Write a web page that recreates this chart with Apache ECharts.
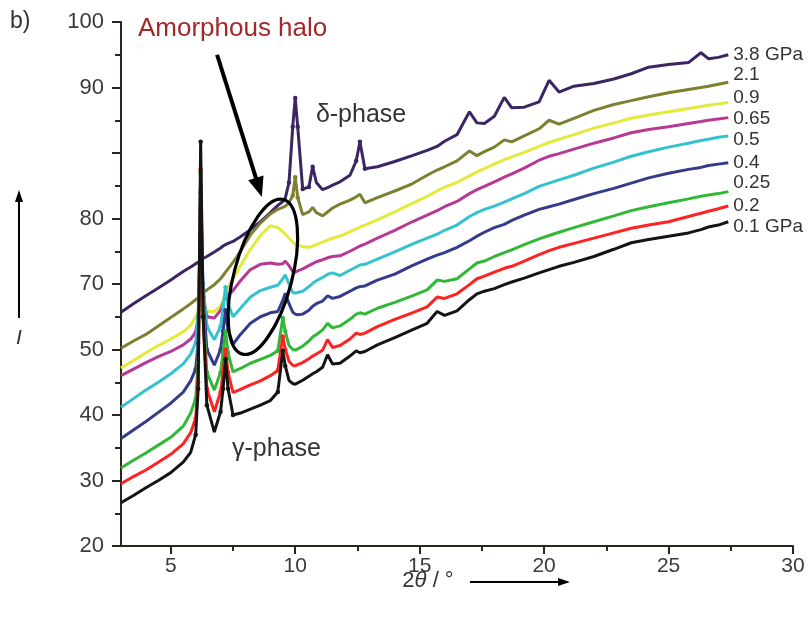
<!DOCTYPE html>
<html><head><meta charset="utf-8">
<script src="https://cdn.jsdelivr.net/npm/echarts@6/dist/echarts.min.js"></script>
<style>html,body{margin:0;padding:0;background:#fff}#c{width:808px;height:619px}</style>
</head><body><div id="c"></div>
<script>
// 2θ grid (degrees)
const twoTheta = [3,3.5,4,4.5,5,5.5,5.8,6.0,6.1,6.2,6.3,6.45,6.75,7.0,7.1,7.2,7.3,7.5,7.8,8.2,8.6,9.0,9.3,9.5,9.6,9.75,9.9,10.0,10.1,10.3,10.55,10.7,10.85,11.1,11.3,11.5,11.8,12.2,12.45,12.6,12.8,13.3,14.0,14.7,15.3,15.7,16.0,16.5,17.0,17.3,17.6,18.0,18.4,18.7,19.2,19.8,20.2,20.6,21.2,22.0,22.8,23.5,24.2,25.0,25.8,26.3,26.6,27.0,27.4];

const i38 = [55.7,57.0,58.2,59.4,60.6,61.9,62.6,63.1,63.3,63.6,63.9,64.2,64.9,65.5,65.8,66.0,66.2,66.5,67.2,68.3,69.5,70.9,72.0,72.6,73.1,75.5,84.0,88.4,84.0,74.5,74.8,77.9,75.5,74.4,74.7,75.1,75.6,76.6,78.8,81.7,77.6,77.9,78.7,79.6,80.4,81.0,81.8,82.8,86.3,84.6,84.5,85.6,88.5,86.9,87.0,87.8,91.1,89.3,90.2,90.6,91.3,92.1,93.1,93.5,93.8,95.3,94.4,94.6,95.0];
const i21 = [50.2,51.3,52.3,53.6,54.9,56.2,57.0,57.6,57.9,58.3,58.6,59.1,59.9,60.8,61.3,61.8,62.3,63.3,65.0,67.5,69.3,70.7,71.4,71.7,71.9,72.4,73.5,76.3,73.2,70.6,71.0,71.7,70.9,70.4,71.0,71.6,72.2,72.8,73.3,73.7,72.4,73.2,74.2,75.3,76.6,77.4,77.9,78.8,80.3,79.6,80.2,80.9,82.0,81.7,82.6,83.7,85.0,84.4,85.3,86.5,87.4,88.0,88.6,89.2,89.7,90.0,90.2,90.5,90.8];
const i09 = [47.2,48.3,49.5,50.6,51.6,52.7,53.7,55.0,55.8,56.8,56.3,55.8,55.8,56.6,57.5,58.6,59.5,60.8,62.8,65.3,67.4,68.9,68.6,68.0,67.6,67.0,66.4,66.1,65.9,65.7,65.6,65.8,66.0,66.4,66.7,67.0,67.3,68.0,68.4,68.7,69.0,69.8,71.0,72.3,73.4,74.2,74.8,75.5,76.5,77.1,77.6,78.3,79.0,79.4,80.1,81.0,81.6,82.1,82.8,83.8,84.6,85.3,85.8,86.3,86.8,87.1,87.3,87.5,87.7];
const i065 = [46.0,47.0,48.0,48.9,49.7,50.7,51.6,52.6,55.0,64.0,58.0,55.0,54.8,56.0,57.0,58.2,58.3,59.0,60.5,62.2,63.0,63.2,63.0,63.1,63.5,62.8,61.9,61.8,62.0,62.3,62.8,63.1,63.4,63.7,64.0,64.2,64.3,65.0,65.5,65.8,66.1,67.0,68.2,69.5,70.5,71.2,71.8,72.6,73.8,74.4,74.9,75.6,76.3,76.8,77.7,78.9,79.5,79.9,80.6,81.5,82.3,83.1,83.6,84.0,84.5,84.8,85.0,85.2,85.4];
const i05 = [41.2,42.5,43.8,45.0,46.3,47.8,49.3,51.0,55.0,70.0,60.0,53.5,51.5,53.5,56.5,59.5,57.0,55.0,56.3,58.0,59.0,59.5,59.8,60.8,61.4,60.0,58.7,58.6,58.7,58.9,59.6,60.1,60.5,61.0,61.5,61.7,61.3,62.1,62.6,62.9,63.0,63.8,64.9,66.1,67.0,67.6,68.2,69.0,70.3,70.9,71.4,71.9,72.5,73.0,73.8,74.9,75.4,75.9,76.6,77.7,78.6,79.5,80.2,80.9,81.5,81.9,82.1,82.4,82.6];
const i04 = [36.4,37.7,39.0,40.4,41.8,43.5,45.2,47.0,51.0,74.0,58.0,50.0,47.6,50.0,52.8,56.0,53.0,50.8,52.3,54.0,55.0,55.6,55.8,57.5,58.6,57.0,55.7,55.4,55.3,55.4,56.0,56.6,57.0,57.4,58.2,57.8,58.1,58.9,59.4,59.6,59.7,60.6,61.5,62.8,63.8,64.4,64.8,65.6,66.6,67.3,67.9,68.6,69.1,69.7,70.5,71.4,71.8,72.2,72.9,73.8,74.6,75.4,76.2,76.9,77.5,77.8,78.1,78.3,78.5];
const i025 = [31.9,33.1,34.2,35.4,36.6,38.3,40.3,42.5,48.0,77.0,56.0,46.5,43.8,46.5,49.5,52.8,49.5,46.6,47.1,47.9,48.5,49.1,49.8,54.8,52.8,50.6,50.0,49.9,50.1,50.5,51.3,51.9,52.3,53.0,54.0,53.3,53.6,54.6,55.4,55.6,55.4,56.3,57.2,58.2,59.1,60.6,60.4,60.8,62.3,63.2,63.5,64.2,64.8,65.2,66.0,66.9,67.4,67.9,68.6,69.5,70.4,71.2,71.8,72.4,73.0,73.4,73.6,73.8,74.1];
const i02 = [29.5,30.6,31.6,32.8,34.0,35.6,37.3,39.5,45.0,77.5,55.0,44.0,40.5,43.5,46.5,50.0,46.5,43.4,43.9,44.6,45.2,46.0,46.8,52.0,50.0,48.2,47.6,47.5,47.7,48.0,48.6,49.0,49.3,49.9,51.5,50.3,50.6,51.6,52.5,52.3,52.5,53.5,54.6,55.6,56.5,58.0,57.8,58.5,59.9,60.8,61.2,61.8,62.4,62.7,63.5,64.5,65.1,65.6,66.2,67.0,67.8,68.5,69.0,69.5,70.3,70.8,71.1,71.5,71.9];
const i01 = [26.6,27.7,28.9,30.0,31.2,32.8,34.3,37.0,44.0,81.7,55.0,41.5,37.4,40.5,44.0,48.5,44.0,40.0,40.3,40.9,41.5,42.2,43.5,49.8,47.5,45.3,44.8,44.7,44.9,45.3,45.9,46.3,46.6,47.3,49.2,47.8,47.9,49.0,49.8,49.5,49.7,50.7,51.8,53.0,54.0,55.8,55.2,55.9,57.6,58.5,58.9,59.3,59.9,60.3,60.9,61.7,62.2,62.7,63.3,64.2,65.3,66.3,66.8,67.3,67.8,68.3,68.7,69.0,69.5];

const seriesNames = ['3.8 GPa','2.1','0.9','0.65','0.5','0.4','0.25','0.2','0.1 GPa'];
const seriesValues = [i38,i21,i09,i065,i05,i04,i025,i02,i01];
const seriesColors = ['#3b2563','#7d8031','#e4ea3a','#b63a94','#35c2cf','#353b8b','#31b836','#ff2222','#141414'];
const labelLevels = [95.0,91.9,88.5,85.2,82.0,78.5,75.4,71.9,68.7];

const yTickLabels = ['20','30','40','50','70','80','','90','100'];
const xTickValues = [5,10,15,20,25,30];
const xMinorTickValues = [7.5,12.5,17.5,22.5,27.5];

const FONT = '"Liberation Sans", Arial, sans-serif';
const chart = echarts.init(document.getElementById('c'), null, {renderer:'canvas'});

const series = seriesValues.map((vals, k) => ({
  name: seriesNames[k],
  type: 'line',
  xAxisIndex: 0, yAxisIndex: 0,
  data: twoTheta.map((x, i) => [x, vals[i]]),
  showSymbol: true,
  symbol: 'circle',
  symbolSize: (v, p) => {
    const i = p.dataIndex;
    let s = 0;
    if (i > 0) s = Math.max(s, Math.abs(vals[i]-vals[i-1])/(twoTheta[i]-twoTheta[i-1]));
    if (i < vals.length-1) s = Math.max(s, Math.abs(vals[i+1]-vals[i])/(twoTheta[i+1]-twoTheta[i]));
    return s > 18 ? 4.5 : 0;
  },
  itemStyle: {color: seriesColors[k]},
  lineStyle: {color: seriesColors[k], width: 3},
  z: 2 + k,
  silent: true,
  animation: false
}));

const axisColor = '#2b2520';
chart.setOption({
  animation: false,
  backgroundColor: '#fff',
  grid: {left: 121, right: 15, top: 22, bottom: 73},
  xAxis: [{
    type: 'value', min: 3, max: 30,
    axisLine: {show: true, lineStyle: {color: axisColor, width: 2}},
    axisTick: {show: true, length: 8, lineStyle: {color: axisColor, width: 2}, customValues: xTickValues},
    axisLabel: {show: true, customValues: xTickValues, margin: 10, fontSize: 21, color: '#3a3a3a', fontFamily: FONT},
    splitLine: {show: false}
  }, {
    type: 'value', min: 3, max: 30, position: 'bottom',
    axisLine: {show: false},
    axisTick: {show: true, length: 5, lineStyle: {color: axisColor, width: 2}, customValues: xMinorTickValues},
    axisLabel: {show: false},
    splitLine: {show: false}
  }],
  yAxis: {
    type: 'value', min: 20, max: 100, interval: 10,
    axisLine: {show: true, lineStyle: {color: axisColor, width: 2}},
    axisTick: {show: true, length: 9, lineStyle: {color: axisColor, width: 2}},
    minorTick: {show: true, splitNumber: 2, length: 6, lineStyle: {color: axisColor, width: 2}},
    axisLabel: {margin: 17, fontSize: 22, color: '#3a3a3a', fontFamily: FONT,
      formatter: v => { const idx = Math.round((v - 20) / 10); return yTickLabels[idx] ?? ''; }},
    splitLine: {show: false}
  },
  series: series
});

// annotations (anchored in data space)
const P = (x, y) => chart.convertToPixel({seriesIndex: 0}, [x, y]);
const g = [];
function arrow(a, b, w, head, hw) {
  const dx = b[0]-a[0], dy = b[1]-a[1], L = Math.hypot(dx, dy);
  const ux = dx/L, uy = dy/L;
  const bx = b[0]-ux*head, by = b[1]-uy*head;
  g.push({type:'line', shape:{x1:a[0], y1:a[1], x2:bx+ux*2, y2:by+uy*2}, style:{stroke:'#000', lineWidth:w}, z:50});
  g.push({type:'polygon', shape:{points:[[b[0],b[1]],[bx-uy*hw, by+ux*hw],[bx+uy*hw, by-ux*hw]]}, style:{fill:'#000'}, z:50});
}
function text(t, x, y, font, fill, align) {
  g.push({type:'text', x: x, y: y, style:{text:t, font:font, fill:fill, textAlign: align||'left', textVerticalAlign:'middle'}, z:60});
}

// series labels on the right
labelLevels.forEach((lv, k) => {
  const p = P(27.6, lv);
  text(seriesNames[k], p[0], p[1], '19px ' + FONT, '#333333');
});

// halo arrow and ellipse
arrow(P(6.86, 95.0), P(8.66, 73.3), 4, 20, 8);
const c = P(8.70, 61.1);
g.push({type:'ellipse', x:c[0], y:c[1], rotation:-0.26, shape:{cx:0, cy:0, rx:29, ry:80}, style:{fill:'none', stroke:'#000', lineWidth:3.2}, z:55});

const ah = P(3.68, 98.9);
text('Amorphous halo', ah[0], ah[1], '26px ' + FONT, '#a3282a');
const dp = P(10.83, 85.8);
text('δ-phase', dp[0], dp[1], '25px ' + FONT, '#333333');
const gp = P(7.46, 34.8);
text('γ-phase', gp[0], gp[1], '25px ' + FONT, '#333333');

// panel label
text('b)', 10, 22, '23px ' + FONT, '#333333');

// x axis name with arrow
g.push({type:'text', x: 428, y: 581, style:{text:'2{i|θ} / °', font:'22px ' + FONT, fill:'#333', textAlign:'center', textVerticalAlign:'middle',
  rich:{i:{fontStyle:'italic', fontSize:22, fontFamily:FONT, fill:'#333'}}}, z:60});
arrow([470, 582], [570, 582], 2, 12, 4);
// y axis name with arrow
text('I', 19, 338, 'italic 21px ' + FONT, '#333333', 'center');
arrow([19, 318], [19, 190], 2, 12, 4);

chart.setOption({graphic: {elements: g}});
</script>
</body></html>
